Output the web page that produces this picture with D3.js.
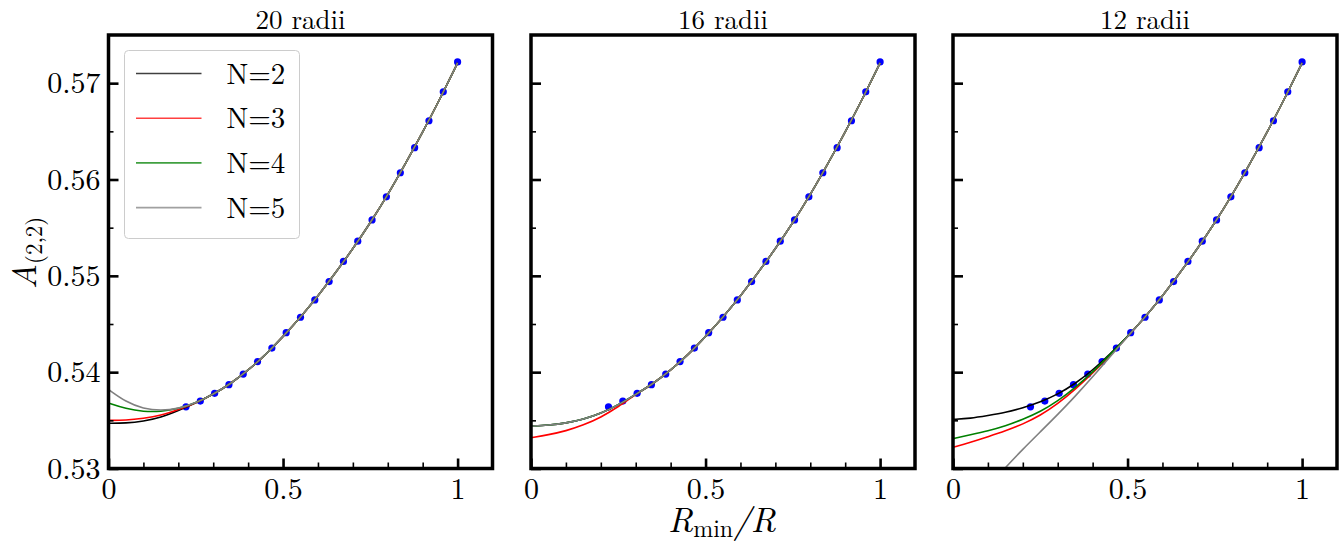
<!DOCTYPE html>
<html>
<head>
<meta charset="utf-8">
<script src="https://cdn.jsdelivr.net/npm/d3@7"></script>
<style>
  body { margin: 0; background: #fff; }
</style>
</head>
<body>
<div id="chart"></div>
<script>
// ---- data ----
var panelTitles = ["20 radii", "16 radii", "12 radii"];
var seriesNames = ["N=2", "N=3", "N=4", "N=5"];
var seriesColors = ["#000000", "#ff0000", "#008000", "#808080"];
var legendColors = ["#404040", "#ff4040", "#40a040", "#a0a0a0"];

// measured points (same in every panel)
var xPts = [0.222, 0.263, 0.304, 0.345, 0.386, 0.427, 0.468, 0.509, 0.550, 0.591,
            0.632, 0.673, 0.714, 0.755, 0.796, 0.836, 0.877, 0.918, 0.959, 1.0];
var yPts = [0.5364, 0.5370, 0.5378, 0.5387, 0.5398, 0.5411, 0.5425, 0.5441, 0.5457, 0.5475,
            0.5494, 0.5515, 0.5536, 0.5558, 0.5582, 0.5607, 0.5633, 0.5661, 0.5691, 0.5722];

// R_min/R where the fitted curves were read
var xGrid = [0, 0.05, 0.1, 0.15, 0.2, 0.25, 0.3, 0.35, 0.4, 0.45, 0.5,
             0.55, 0.6, 0.65, 0.7, 0.75, 0.8, 0.85, 0.9, 0.95, 1.0];

// part of the fits where all curves coincide (x = 0.30 .. 1.00)
var tail = [0.5377, 0.5388, 0.5402, 0.5418, 0.5437, 0.5457, 0.5479, 0.5503,
            0.5528, 0.5555, 0.5584, 0.5616, 0.5649, 0.5684, 0.5721];

// 20 radii, x = 0 .. 0.25
var p1N2 = [0.5347, 0.5347, 0.5349, 0.5353, 0.5360, 0.5368];
var p1N3 = [0.5350, 0.5350, 0.5352, 0.5355, 0.5361, 0.5368];
var p1N4 = [0.5368, 0.5362, 0.5359, 0.5359, 0.5362, 0.5368];
var p1N5 = [0.5382, 0.5369, 0.5362, 0.5360, 0.5362, 0.5368];
// 16 radii, x = 0 .. 0.25
var p2N2 = [0.5344, 0.5345, 0.5347, 0.5351, 0.5357, 0.5366];
var p2N3 = [0.5332, 0.5335, 0.5339, 0.5345, 0.5353, 0.5364];
var p2N4 = [0.5344, 0.5345, 0.5347, 0.5351, 0.5357, 0.5366];
var p2N5 = [0.5344, 0.5345, 0.5347, 0.5351, 0.5357, 0.5366];
// 12 radii, x = 0 .. 0.45
var p3N2 = [0.5351, 0.5352, 0.5355, 0.5358, 0.5363, 0.5369, 0.5377, 0.5388, 0.5402, 0.5419];
var p3N3 = [0.5322, 0.5327, 0.5333, 0.5339, 0.5346, 0.5355, 0.5367, 0.5382, 0.5399, 0.5417];
var p3N4 = [0.5331, 0.5335, 0.5339, 0.5344, 0.5351, 0.5359, 0.5370, 0.5384, 0.5400, 0.5418];
var p3N5 = [null, null, 0.5281, 0.5301, 0.5320, 0.5338, 0.5356, 0.5375, 0.5395, 0.5416];

var xTicks = [0, 0.5, 1];
var yTicks = [0.53, 0.54, 0.55, 0.56, 0.57];

// build full curves
var panels = [
  [p1N2, p1N3, p1N4, p1N5].map(function(h) { return h.concat(tail); }),
  [p2N2, p2N3, p2N4, p2N5].map(function(h) { return h.concat(tail); }),
  [p3N2, p3N3, p3N4, p3N5].map(function(h) { return h.concat(tail.slice(4)); })
];

// ---- layout ----
var W = 1343, H = 552;
var FONT = "'Latin Modern Roman', 'Liberation Serif', serif";
var plotW = 384, plotTop = 35, plotBottom = 468.5;
var lefts = [108.5, 531, 953];

var svg = d3.select("#chart").append("svg")
    .attr("width", W)
    .attr("height", H)
    .attr("font-family", FONT);

var h = plotBottom - plotTop;
var x = d3.scaleLinear().domain([0, 1.1]).range([0, plotW]);
var y = d3.scaleLinear().domain([0.53, 0.575]).range([h, 0]);

svg.append("defs").append("clipPath")
    .attr("id", "clip")
  .append("rect")
    .attr("width", plotW)
    .attr("height", h);

var line = d3.line()
    .defined(function(d) { return d[1] != null; })
    .x(function(d) { return x(d[0]); })
    .y(function(d) { return y(d[1]); })
    .curve(d3.curveBasis);

panels.forEach(function(curves, p) {
  var g = svg.append("g")
      .attr("transform", "translate(" + lefts[p] + "," + plotTop + ")");

  // title
  g.append("text")
      .attr("x", plotW / 2)
      .attr("y", -6)
      .attr("text-anchor", "middle")
      .attr("font-family", FONT)
      .style("font-size", "27px")
      .text(panelTitles[p]);

  var inner = g.append("g").attr("clip-path", "url(#clip)");

  // points
  inner.selectAll("circle")
      .data(xPts)
      .enter()
      .append("circle")
        .attr("cx", function(d) { return x(d); })
        .attr("cy", function(d, i) { return y(yPts[i]); })
        .attr("r", 3.6)
        .style("fill", "#0000ff");

  // fitted curves
  curves.forEach(function(c, k) {
    inner.append("path")
        .datum(xGrid.map(function(xv, i) { return [xv, c[i]]; }))
        .attr("d", line)
        .style("fill", "none")
        .style("stroke", seriesColors[k])
        .style("stroke-width", 1.6);
  });

  // minor ticks
  g.append("g")
      .call(d3.axisLeft(y).tickValues(d3.range(0.535, 0.575, 0.01)).tickSize(-5).tickFormat(""))
      .call(function(a) { a.select(".domain").remove(); a.selectAll("line").style("stroke-width", 1.6); });
  g.append("g")
      .attr("transform", "translate(0," + h + ")")
      .call(d3.axisBottom(x).tickValues([0.1, 0.2, 0.3, 0.4, 0.6, 0.7, 0.8, 0.9]).tickSize(-6).tickFormat(""))
      .call(function(a) { a.select(".domain").remove(); a.selectAll("line").style("stroke-width", 1.6); });

  // major ticks
  var yAxis = g.append("g")
      .call(d3.axisLeft(y).tickValues(yTicks).tickSize(-10).tickPadding(8)
        .tickFormat(p === 0 ? d3.format(".2f") : ""));
  yAxis.attr("font-family", FONT);
  yAxis.select(".domain").remove();
  yAxis.selectAll("line").style("stroke-width", 2.6);
  yAxis.selectAll("text").style("font-size", "30px");

  var xAxis = g.append("g")
      .attr("transform", "translate(0," + h + ")")
      .call(d3.axisBottom(x).tickValues(xTicks).tickSize(-10).tickPadding(9).tickFormat(d3.format("~g")));
  xAxis.attr("font-family", FONT);
  xAxis.select(".domain").remove();
  xAxis.selectAll("line").style("stroke-width", 2.6);
  xAxis.selectAll("text").style("font-size", "30px");

  // frame
  g.append("rect")
      .attr("width", plotW)
      .attr("height", h)
      .style("fill", "none")
      .style("stroke", "#000")
      .style("stroke-width", 3.5);
});

// legend (first panel)
var leg = svg.append("g").attr("transform", "translate(124.5,50.5)");
leg.append("rect")
    .attr("width", 175)
    .attr("height", 188)
    .attr("rx", 4)
    .style("fill", "#fff")
    .style("stroke", "#cccccc")
    .style("stroke-width", 1);
seriesNames.forEach(function(n, i) {
  var yy = 23 + i * 44.7;
  leg.append("line")
      .attr("x1", 11.5).attr("x2", 77)
      .attr("y1", yy).attr("y2", yy)
      .style("stroke", legendColors[i])
      .style("stroke-width", 1.6);
  leg.append("text")
      .attr("x", 102)
      .attr("y", yy + 10)
      .attr("font-family", FONT)
      .style("font-size", "29px")
      .text(n);
});

// axis labels
var yl = svg.append("text")
    .attr("transform", "translate(36,253) rotate(-90)")
    .attr("text-anchor", "middle")
    .attr("font-family", FONT);
yl.append("tspan").style("font-style", "italic").style("font-size", "34px").text("A");
yl.append("tspan").style("font-size", "23px").attr("dy", 6).text("(2,2)");

var xl = svg.append("text")
    .attr("x", 722)
    .attr("y", 532)
    .attr("text-anchor", "middle")
    .attr("font-family", FONT);
xl.append("tspan").style("font-style", "italic").style("font-size", "34.5px").text("R");
xl.append("tspan").style("font-size", "24px").attr("dy", 5).text("min");
xl.append("tspan").style("font-style", "italic").style("font-size", "34.5px").attr("dy", -5).text("/R");
</script>
</body>
</html>
